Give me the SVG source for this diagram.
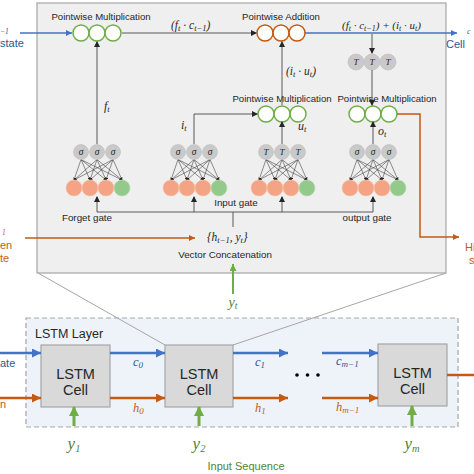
<svg xmlns="http://www.w3.org/2000/svg" xmlns:xlink="http://www.w3.org/1999/xlink" width="474" height="474" viewBox="0 0 474 474">
<style>
.lbl{font-family:"Liberation Sans",Arial,sans-serif;fill:#262626}
.m{font-family:"Liberation Serif","Times New Roman",serif;font-style:italic}
.g{fill:none;stroke:#595959;stroke-width:1}
.bl{fill:none;stroke:#4472c4}
.or{fill:none;stroke:#c55a11}
.gr{fill:none;stroke:#70ad47}
.pw{fill:#fff;stroke:#70ad47;stroke-width:1.5}
.pa{fill:#fff;stroke:#c55a11;stroke-width:1.5}
.tc{fill:#c9c9c9;stroke:#bdbdbd;stroke-width:0.6}
.cell{fill:#d9d9d9;stroke:#a6a6a6;stroke-width:1.2}
</style>
<defs>
<marker id="ag" markerUnits="userSpaceOnUse" markerWidth="6" markerHeight="6" refX="5" refY="3" orient="auto"><path d="M0,0 L6,3 L0,6 z" fill="#262626"/></marker>
<marker id="ab" markerUnits="userSpaceOnUse" markerWidth="10" markerHeight="10" refX="9" refY="4.5" orient="auto"><path d="M0,0 L9,4.5 L0,9 z" fill="#4472c4"/></marker>
<marker id="ao" markerUnits="userSpaceOnUse" markerWidth="10" markerHeight="10" refX="9" refY="4.5" orient="auto"><path d="M0,0 L9,4.5 L0,9 z" fill="#c55a11"/></marker>
<marker id="agr" markerUnits="userSpaceOnUse" markerWidth="10" markerHeight="10" refX="9" refY="5" orient="auto"><path d="M0,0 L10,5 L0,10 z" fill="#70ad47"/></marker>
<marker id="abs" markerUnits="userSpaceOnUse" markerWidth="7" markerHeight="7" refX="6" refY="3" orient="auto"><path d="M0,0 L6,3 L0,6 z" fill="#4472c4"/></marker>
<marker id="aos" markerUnits="userSpaceOnUse" markerWidth="7" markerHeight="7" refX="6" refY="3" orient="auto"><path d="M0,0 L6,3 L0,6 z" fill="#c55a11"/></marker>
<marker id="agrs" markerUnits="userSpaceOnUse" markerWidth="8" markerHeight="8" refX="7" refY="3.5" orient="auto"><path d="M0,0 L7,3.5 L0,7 z" fill="#70ad47"/></marker>
<marker id="tiny" markerUnits="userSpaceOnUse" markerWidth="3" markerHeight="3" refX="2.5" refY="1.5" orient="auto"><path d="M0,0 L3,1.5 L0,3 z" fill="#262626"/></marker>
<g id="net">
<g stroke="#333" stroke-width="0.55" marker-end="url(#tiny)">
<line x1="-16" y1="159.5" x2="-23" y2="180"/><line x1="-16" y1="159.5" x2="-7" y2="180"/><line x1="-16" y1="159.5" x2="9" y2="180"/><line x1="-16" y1="159.5" x2="25" y2="180"/>
<line x1="0" y1="159.5" x2="-23" y2="180"/><line x1="0" y1="159.5" x2="-7" y2="180"/><line x1="0" y1="159.5" x2="9" y2="180"/><line x1="0" y1="159.5" x2="25" y2="180"/>
<line x1="16" y1="159.5" x2="-23" y2="180"/><line x1="16" y1="159.5" x2="-7" y2="180"/><line x1="16" y1="159.5" x2="9" y2="180"/><line x1="16" y1="159.5" x2="25" y2="180"/>
</g>
<circle cx="-16" cy="152" r="7.5" class="tc"/><circle cx="0" cy="152" r="7.5" class="tc"/><circle cx="16" cy="152" r="7.5" class="tc"/>
<circle cx="-23" cy="188" r="8" fill="#f4a384" stroke="#f8c3ac" stroke-width="0.6"/>
<circle cx="-7" cy="188" r="8" fill="#f4a384" stroke="#f8c3ac" stroke-width="0.6"/>
<circle cx="9" cy="188" r="8" fill="#f4a384" stroke="#f8c3ac" stroke-width="0.6"/>
<circle cx="25" cy="188" r="8" fill="#94c98c" stroke="#b9dcb3" stroke-width="0.6"/>
</g>
</defs>

<g id="cell-detail">
<rect x="37" y="3" width="409" height="270" fill="#efefef" stroke="#a6a6a6" stroke-width="1.2"/>
</g>

<g id="pw-mult-forget">
<text class="lbl" x="101" y="20" font-size="9.6" text-anchor="middle">Pointwise Multiplication</text>
<circle cx="81" cy="33" r="8" class="pw"/><circle cx="97" cy="33" r="8" class="pw"/><circle cx="113" cy="33" r="8" class="pw"/>
</g>
<g id="pw-add">
<text class="lbl" x="281" y="20" font-size="9.6" text-anchor="middle">Pointwise Addition</text>
<circle cx="265" cy="33" r="8" class="pa"/><circle cx="281" cy="33" r="8" class="pa"/><circle cx="297" cy="33" r="8" class="pa"/>
</g>
<g id="pw-mult-input">
<text class="lbl" x="282" y="102" font-size="9.6" text-anchor="middle">Pointwise Multiplication</text>
<circle cx="266" cy="114" r="8" class="pw"/><circle cx="282" cy="114" r="8" class="pw"/><circle cx="298" cy="114" r="8" class="pw"/>
</g>
<g id="tanh-out">
<circle cx="356" cy="62" r="8" class="tc"/><circle cx="372" cy="62" r="8" class="tc"/><circle cx="388" cy="62" r="8" class="tc"/>
<text class="m" font-size="9" fill="#262626" text-anchor="middle"><tspan x="356" y="65">T</tspan><tspan x="372" y="65">T</tspan><tspan x="388" y="65">T</tspan></text>
</g>
<g id="pw-mult-output">
<text class="lbl" x="387" y="102" font-size="9.6" text-anchor="middle">Pointwise Multiplication</text>
<circle cx="357" cy="114" r="8" class="pw"/><circle cx="373" cy="114" r="8" class="pw"/><circle cx="389" cy="114" r="8" class="pw"/>
</g>

<g id="forget-gate">
<use xlink:href="#net" x="97"/>
<text class="m" font-size="9.5" fill="#262626" text-anchor="middle"><tspan x="81" y="155">σ</tspan><tspan x="97" y="155">σ</tspan><tspan x="113" y="155">σ</tspan></text>
<text class="lbl" x="87" y="221" font-size="9.8" text-anchor="middle">Forget gate</text>
</g>
<g id="input-gate">
<use xlink:href="#net" x="194"/>
<text class="m" font-size="9.5" fill="#262626" text-anchor="middle"><tspan x="178" y="155">σ</tspan><tspan x="194" y="155">σ</tspan><tspan x="210" y="155">σ</tspan></text>
<use xlink:href="#net" x="282"/>
<text class="m" font-size="9" fill="#262626" text-anchor="middle"><tspan x="266" y="155">T</tspan><tspan x="282" y="155">T</tspan><tspan x="298" y="155">T</tspan></text>
<text class="lbl" x="236" y="206" font-size="9.8" text-anchor="middle">Input gate</text>
</g>
<g id="output-gate">
<use xlink:href="#net" x="373"/>
<text class="m" font-size="9.5" fill="#262626" text-anchor="middle"><tspan x="357" y="155">σ</tspan><tspan x="373" y="155">σ</tspan><tspan x="389" y="155">σ</tspan></text>
<text class="lbl" x="367" y="221" font-size="9.8" text-anchor="middle">output gate</text>
</g>
<g id="concat">
<text class="m" x="207" y="241" font-size="11.5" fill="#262626">{<tspan>h</tspan><tspan font-size="8.5" dy="2">t−1</tspan><tspan dy="-2">, y</tspan><tspan font-size="8.5" dy="2">t</tspan><tspan dy="-2">}</tspan></text>
<text class="lbl" x="225" y="258" font-size="9.8" text-anchor="middle">Vector Concatenation</text>
</g>

<g id="connectors">
<path class="bl" stroke-width="1.5" d="M20,33 H72" marker-end="url(#abs)"/>
<path class="g" d="M122,33 H256" marker-end="url(#ag)"/>
<path class="bl" stroke-width="1.5" d="M305,33 H457" marker-end="url(#abs)"/>
<path class="g" d="M372,34 V53" marker-end="url(#ag)"/>
<path class="g" d="M372,70 V105" marker-end="url(#ag)"/>
<path class="or" stroke-width="1.5" d="M397,114 H420 V237 H459" marker-end="url(#aos)"/>
<path class="g" d="M373,144 V122" marker-end="url(#ag)"/>
<path class="g" d="M282,144 V122" marker-end="url(#ag)"/>
<path class="g" d="M194,144 V114 H257" marker-end="url(#ag)"/>
<path class="g" d="M282,105 V42" marker-end="url(#ag)"/>
<path class="g" d="M97,144 V42" marker-end="url(#ag)"/>
<path class="g" d="M97,212 H373"/>
<path class="g" d="M97,212 V197" marker-end="url(#ag)"/>
<path class="g" d="M194,212 V197" marker-end="url(#ag)"/>
<path class="g" d="M282,212 V197" marker-end="url(#ag)"/>
<path class="g" d="M373,212 V197" marker-end="url(#ag)"/>
<path class="g" d="M233,212 V227"/>
<path class="or" stroke-width="1.5" d="M25,238 H195" marker-end="url(#aos)"/>
<path class="gr" stroke-width="2" d="M233,294 V264" marker-end="url(#agrs)"/>
</g>

<g id="math-labels" class="m" fill="#262626">
<text x="104" y="110" font-size="12">f<tspan font-size="8.5" dy="2">t</tspan></text>
<text x="181" y="129" font-size="12">i<tspan font-size="8.5" dy="2">t</tspan></text>
<text x="298" y="130" font-size="12">u<tspan font-size="8.5" dy="2">t</tspan></text>
<text x="378" y="135" font-size="12">o<tspan font-size="8.5" dy="2">t</tspan></text>
<text x="171" y="29" font-size="11.5">(f<tspan font-size="8.5" dy="2">t</tspan><tspan dy="-2"> · c</tspan><tspan font-size="8.5" dy="2">t−1</tspan><tspan dy="-2">)</tspan></text>
<text x="286" y="75" font-size="11.5">(i<tspan font-size="8.5" dy="2">t</tspan><tspan dy="-2"> · u</tspan><tspan font-size="8.5" dy="2">t</tspan><tspan dy="-2">)</tspan></text>
<text x="342" y="29" font-size="11">(f<tspan font-size="8" dy="2">t</tspan><tspan dy="-2"> · c</tspan><tspan font-size="8" dy="2">t−1</tspan><tspan dy="-2">) + (i</tspan><tspan font-size="8" dy="2">t</tspan><tspan dy="-2"> · u</tspan><tspan font-size="8" dy="2">t</tspan><tspan dy="-2">)</tspan></text>
<text x="233" y="307" font-size="14" fill="#548235" text-anchor="middle">y<tspan font-size="9.5" dy="2">t</tspan></text>
</g>

<g id="edge-fragments" font-family="Liberation Sans, Arial, sans-serif">
<text x="0" y="34" font-size="7.5" fill="#2f5597" class="m">−1</text>
<text x="0" y="47" font-size="11" fill="#2f5597">state</text>
<text x="467" y="34" font-size="7.5" fill="#2f5597" class="m">c</text>
<text x="446" y="48" font-size="11" fill="#2f5597">Cell</text>
<text x="2" y="235" font-size="7.5" fill="#c55a11" class="m">1</text>
<text x="0" y="249" font-size="11" fill="#c55a11">en</text>
<text x="0" y="262" font-size="11" fill="#c55a11">te</text>
<text x="465" y="251" font-size="11" fill="#c55a11">Hi</text>
<text x="469" y="264" font-size="11" fill="#c55a11">s</text>
<text x="0" y="367" font-size="11" fill="#2f5597">ate</text>
<text x="0" y="408" font-size="11" fill="#c55a11">n</text>
</g>

<g id="lstm-layer">
<rect x="26" y="318" width="432" height="109" fill="#eef3fa" stroke="#a5a5a5" stroke-width="1.2" stroke-dasharray="5,3"/>
<text class="lbl" x="35" y="338" font-size="12.5" fill="#404040">LSTM Layer</text>
</g>
<g id="zoom-lines" stroke="#a6a6a6" stroke-width="1">
<line x1="38" y1="273" x2="165" y2="345"/>
<line x1="446" y1="273" x2="233" y2="345"/>
</g>
<g id="cell1">
<rect x="41" y="345" width="69" height="62" class="cell"/>
<text class="lbl" x="75.5" y="379" font-size="14.5" text-anchor="middle">LSTM</text>
<text class="lbl" x="75.5" y="395" font-size="14.5" text-anchor="middle">Cell</text>
</g>
<g id="cell2">
<rect x="165" y="345" width="68" height="62" class="cell"/>
<text class="lbl" x="199" y="379" font-size="14.5" text-anchor="middle">LSTM</text>
<text class="lbl" x="199" y="395" font-size="14.5" text-anchor="middle">Cell</text>
</g>
<g id="cell3">
<rect x="378" y="344" width="69" height="62" class="cell"/>
<text class="lbl" x="412.5" y="378" font-size="14.5" text-anchor="middle">LSTM</text>
<text class="lbl" x="412.5" y="394" font-size="14.5" text-anchor="middle">Cell</text>
</g>
<g id="layer-connectors">
<path class="bl" stroke-width="2.5" d="M0,353 H41" marker-end="url(#ab)"/>
<path class="bl" stroke-width="2.5" d="M110,353 H165" marker-end="url(#ab)"/>
<path class="bl" stroke-width="2.5" d="M233,353 H288" marker-end="url(#ab)"/>
<path class="bl" stroke-width="2.5" d="M322,353 H378" marker-end="url(#ab)"/>
<path class="or" stroke-width="2.5" d="M0,398 H41" marker-end="url(#ao)"/>
<path class="or" stroke-width="2.5" d="M110,398 H165" marker-end="url(#ao)"/>
<path class="or" stroke-width="2.5" d="M233,398 H288" marker-end="url(#ao)"/>
<path class="or" stroke-width="2.5" d="M322,398 H378" marker-end="url(#ao)"/>
<path class="or" stroke-width="2.5" d="M447,375 H474"/>
<path class="gr" stroke-width="3" d="M74,426 V407" marker-end="url(#agr)"/>
<path class="gr" stroke-width="3" d="M199,426 V407" marker-end="url(#agr)"/>
<path class="gr" stroke-width="3" d="M412,426 V406" marker-end="url(#agr)"/>
<circle cx="297" cy="375" r="1.8" fill="#000"/><circle cx="307.5" cy="375" r="1.8" fill="#000"/><circle cx="318" cy="375" r="1.8" fill="#000"/>
</g>
<g id="layer-labels" class="m">
<text x="133" y="366" font-size="12.5" fill="#2f5597">c<tspan font-size="9" dy="2">0</tspan></text>
<text x="133" y="412" font-size="12.5" fill="#c55a11">h<tspan font-size="9" dy="2">0</tspan></text>
<text x="255" y="366" font-size="12.5" fill="#2f5597">c<tspan font-size="9" dy="2">1</tspan></text>
<text x="255" y="412" font-size="12.5" fill="#c55a11">h<tspan font-size="9" dy="2">1</tspan></text>
<text x="336" y="365" font-size="12.5" fill="#2f5597">c<tspan font-size="9" dy="2">m−1</tspan></text>
<text x="336" y="411" font-size="12.5" fill="#c55a11">h<tspan font-size="9" dy="2">m−1</tspan></text>
<text x="74" y="449" font-size="17" fill="#548235" text-anchor="middle">y<tspan font-size="10.5" dy="3">1</tspan></text>
<text x="199" y="449" font-size="17" fill="#548235" text-anchor="middle">y<tspan font-size="10.5" dy="3">2</tspan></text>
<text x="412" y="449" font-size="17" fill="#548235" text-anchor="middle">y<tspan font-size="10.5" dy="3">m</tspan></text>
</g>
<text class="lbl" x="246" y="470" font-size="11" style="fill:#548235" text-anchor="middle">Input Sequence</text>
</svg>
